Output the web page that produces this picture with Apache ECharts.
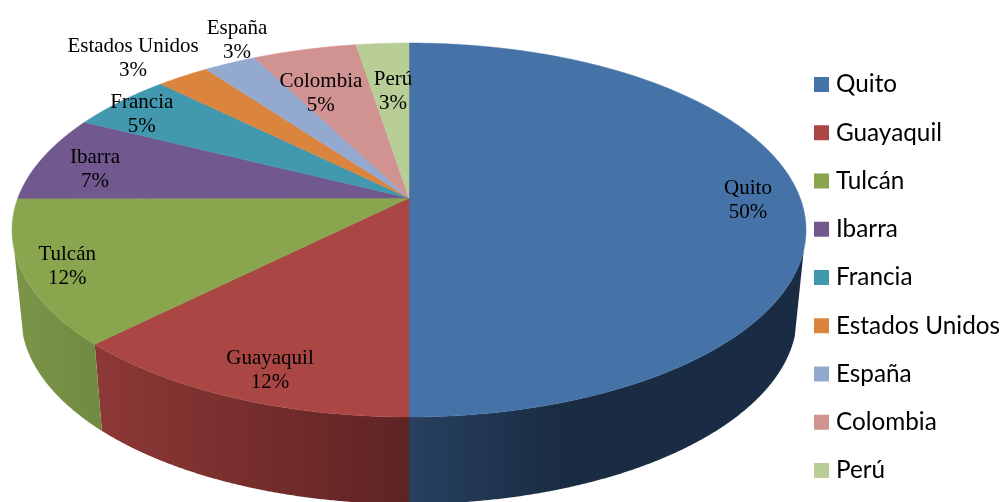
<!DOCTYPE html>
<html>
<head>
<meta charset="utf-8">
<style>html,body{margin:0;padding:0;background:#fff}#c{width:1003px;height:502px}</style>
<script src="https://cdn.jsdelivr.net/npm/echarts@6/dist/echarts.min.js"></script>
</head>
<body>
<div id="c"></div>
<script>
const categories = ['Quito','Guayaquil','Tulcán','Ibarra','Francia','Estados Unidos','España','Colombia','Perú'];
const shares = [50, 12.48, 12.48, 7.45, 5, 2.53, 2.53, 5, 2.53];

const sliceColors = ['#4572A7','#AA4643','#89A54E','#71588F','#4198AF','#DB843D','#93A9CF','#D19392','#B9CD96'];
const wallStops = {
  'Quito': [[410,'#27405f'],[560,'#1a2c44'],[810,'#1a2c44']],
  'Guayaquil': [[100,'#8c3836'],[409,'#5f2323']],
  'Tulcán': [[15,'#7a9448'],[105,'#718a42']]
};
// Label block centres, as fractions of the top ellipse's radii.
const labelFractions = [[.854,-.157],[-.350,.752],[-.861,.197],[-.791,-.322],[-.673,-.618],[-.695,-.919],[-.433,-1.015],[-.222,-.732],[-.04,-.743]];

const TOP = {cx:409, cy:230, rx:397, ry:187};
const BOTTOM = {cx:409, cy:316, rx:388, ry:188};
const TILT = 0.171;        // perspective shift of the disc's centre
const SILHOUETTE = -0.105; // ellipse height of the tangent between top and bottom rims
const total = shares.reduce((a,b)=>a+b,0);

// True angle on the disc (clockwise from top) -> normalised position on the drawn ellipse.
function project(theta){
  const X = Math.sin(theta), Y = Math.cos(theta);
  const d = 1 + TILT*Y;
  return {x: X*Math.sqrt(1-TILT*TILT)/d, y: (Y+TILT)/d};
}
const place = (e,p)=>[e.cx + e.rx*p.x, e.cy - e.ry*p.y];

function makeRender(index){
  return function(params, api){
    const startShare = shares.slice(0,index).reduce((a,b)=>a+b,0);
    const a0 = startShare/total*2*Math.PI;
    const a1 = (startShare+api.value(0))/total*2*Math.PI;
    const step = Math.PI/720;
    const samples = [];
    for(let a=a0; a<a1; a+=step) samples.push(project(a));
    samples.push(project(a1));

    const children = [];
    const wall = samples.filter(p=>p.y<=SILHOUETTE);
    if(wall.length>1){
      const pts = wall.map(p=>place(TOP,p)).concat(wall.slice().reverse().map(p=>place(BOTTOM,p)));
      const stops = wallStops[categories[index]];
      const x0 = stops[0][0], x1 = stops[stops.length-1][0];
      children.push({type:'polygon', shape:{points:pts}, z2:1, style:{
        fill:{type:'linear', global:true, x:x0, y:0, x2:x1, y2:0,
          colorStops:stops.map(s=>({offset:(s[0]-x0)/(x1-x0), color:s[1]}))},
        stroke:null}});
    }
    const face = [place(TOP,{x:0,y:TILT})].concat(samples.map(p=>place(TOP,p)));
    children.push({type:'polygon', shape:{points:face}, z2:2, style:{fill:sliceColors[index], stroke:sliceColors[index], lineWidth:0.5}});
    const f = labelFractions[index];
    children.push({type:'text', z2:10, style:{
      text: categories[index]+'\n'+Math.round(api.value(0))+'%',
      x: TOP.cx + f[0]*TOP.rx, y: TOP.cy + f[1]*TOP.ry,
      align:'center', verticalAlign:'middle',
      fontFamily:'"Liberation Serif", serif', fontSize:21, lineHeight:24, fill:'#000'}});
    return {type:'group', children};
  };
}

const chart = echarts.init(document.getElementById('c'), null, {renderer:'canvas'});
chart.setOption({
  animation:false,
  backgroundColor:'#fff',
  legend:{
    orient:'vertical', left:814, top:71.5, padding:0,
    itemWidth:15, itemHeight:15, itemGap:22.25, icon:'rect',
    data:categories, selectedMode:false,
    textStyle:{fontFamily:'Lato, "Open Sans", sans-serif', fontSize:24.3, lineHeight:24, color:'#000', padding:[2,0,0,2]}
  },
  series:categories.map((name,i)=>({
    type:'custom', name, coordinateSystem:'none', silent:true, clip:false,
    z:2+i,
    itemStyle:{color:sliceColors[i]},
    renderItem:makeRender(i),
    data:[[shares[i]]]
  }))
});
</script>
</body>
</html>
